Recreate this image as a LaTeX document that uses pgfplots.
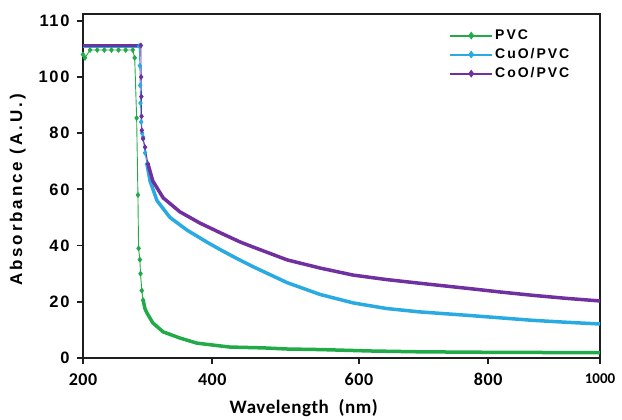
\documentclass[border=0pt]{standalone}
\usepackage{fontspec}
\setmainfont{Liberation Sans}
\newfontfamily\calib[LetterSpace=3]{Carlito}
\newfontfamily\calibn{Carlito}
\newfontfamily\spacedA[LetterSpace=10]{Liberation Sans}
\newfontfamily\spacedB[LetterSpace=17]{Liberation Sans}
\newfontfamily\spacedC[LetterSpace=14]{Liberation Sans}
\usepackage{pgfplots}
\pgfplotsset{compat=1.18}
\definecolor{cgreen}{RGB}{33,170,72}
\definecolor{cblue}{RGB}{41,171,226}
\definecolor{cpurple}{RGB}{112,48,160}
\definecolor{axc}{RGB}{30,30,30}
\begin{document}
\begin{tikzpicture}
\useasboundingbox (-83bp,-62bp) rectangle (539bp,358bp);
\begin{axis}[
  at={(0,0)}, anchor=south west,
  scale only axis, width=517bp, height=344bp,
  xmin=200, xmax=1000, ymin=0, ymax=122.4,
  xtick={200,400,627,827,1000},
  xticklabels={200,400,600,800,{\calibn\fontsize{15bp}{15bp}\selectfont 1000}},
  ytick={0,20,40,60,80,100,120},
  yticklabels={0,20,40,60,80,100,110},
  tick pos=left, tick align=outside,
  major tick length=6bp,
  axis line style={axc, line width=1.8bp},
  every tick/.style={axc, line width=1.8bp},
  xticklabel style={font=\calib\bfseries\fontsize{18bp}{20bp}\selectfont, yshift=-6bp},
  yticklabel style={font=\spacedA\bfseries\fontsize{16.5bp}{18bp}\selectfont, xshift=-4bp},
  xlabel={Wavelength\ \ (nm)},
  xlabel style={at={(axis description cs:0.427,-0.145)}, anchor=center, font=\calib\bfseries\fontsize{19bp}{21bp}\selectfont},
  ylabel={Absorbance (A.U.)},
  ylabel style={at={(axis description cs:-0.126,0.488)}, anchor=center, font=\spacedB\bfseries\fontsize{17bp}{19bp}\selectfont},
  legend style={at={(axis description cs:0.708,0.960)}, anchor=north west, draw=none, fill=none, inner sep=0pt, row sep=3.5bp,
    font=\spacedC\bfseries\fontsize{14bp}{15bp}\selectfont},
  legend cell align=left,
  legend image code/.code={\draw[#1, line width=2bp, mark repeat=2, mark phase=2] plot coordinates {(0bp,0bp) (21bp,0bp) (42bp,0bp)};},
]
% main series (legend), sparse drop with markers
\addplot[cgreen, line width=0.9bp, mark=diamond*, mark size=2.3bp] coordinates {
(200,108)(203,106.8)(211,109.6)(222,109.6)(233,109.6)(244,109.6)(255,109.6)(266,109.6)(277,109.6)(280,106.8)
(283,85.4)(285,58)(286,39)(288,35)(289,30)(291,24)(293,20.6)};
\addlegendentry{PVC}
\addplot[cblue, line width=0.9bp, mark=diamond*, mark size=2.3bp] coordinates {
(287,111)(288,104)(288.5,97)(289,90.7)(290,84)(291.5,80)(293,78.6)(296,73)(299,69)};
\addlegendentry{CuO/PVC}
\addplot[cpurple, line width=0.9bp, mark=diamond*, mark size=2.3bp] coordinates {
(289.5,111.2)(290,100)(290.3,93)(290.6,86)(291,81)(293,78)(296,75)(300.6,69)};
\addlegendentry{CoO/PVC}
% dense parts (thick)
\addplot[cgreen, line width=3.5bp, line join=round, forget plot] coordinates {
(293,20.6)(296,17.5)(299,16)(308,12.5)(324,9.3)(350,7.1)(376,5.3)(401,4.6)(427,3.9)(479,3.6)(516,3.2)(567,3.0)(644,2.5)(721,2.2)(845,2.0)(1000,1.9)};
\addplot[cblue, line width=3.5bp, line join=round, forget plot] coordinates {(200,111)(287,111)};
\addplot[cblue, line width=3.5bp, line join=round, forget plot] coordinates {
(299,69)(303.7,63)(314.5,56)(334.6,50)(361,45.5)(392,41.2)(412,38.6)(438,35.4)(463,32.5)(516,26.8)(567,22.6)(618,19.6)(670,17.6)(721,16.4)(794,15.2)(845,14.3)(896,13.4)(949,12.7)(1000,12.1)};
\addplot[cpurple, line width=3.5bp, line join=round, forget plot] coordinates {(200,111.2)(290,111.2)};
\addplot[cpurple, line width=3.5bp, line join=round, forget plot] coordinates {
(300.6,69)(308,63)(324,57)(350,52)(381,48)(412,44.6)(443,41.3)(463,39.5)(516,34.9)(567,32)(618,29.5)(670,27.9)(721,26.6)(794,24.8)(845,23.5)(896,22.3)(949,21.2)(1000,20.3)};
\end{axis}
\end{tikzpicture}
\end{document}
